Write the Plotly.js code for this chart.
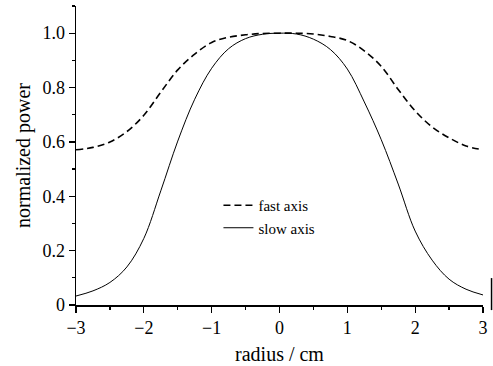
<!DOCTYPE html>
<html>
<head>
<meta charset="utf-8">
<script src="https://cdn.plot.ly/plotly-3.0.1.min.js"></script>
<style>html,body{margin:0;padding:0;background:#fff;}#chart{width:493px;height:366px;}</style>
</head>
<body>
<div id="chart"></div>
<script>
const radius = [-3, -2.75, -2.5, -2.25, -2.0, -1.75, -1.5, -1.25, -1.0, -0.75, -0.5, -0.25, 0, 0.25, 0.5, 0.75, 1.0, 1.25, 1.5, 1.75, 2.0, 2.25, 2.5, 2.75, 3.0];
const fastAxis = [0.571, 0.58, 0.60, 0.638, 0.698, 0.783, 0.865, 0.923, 0.966, 0.985, 0.994, 0.999, 1.0, 1.0, 0.997, 0.988, 0.973, 0.935, 0.878, 0.793, 0.714, 0.655, 0.615, 0.585, 0.571];
const slowAxis = [0.033, 0.052, 0.083, 0.14, 0.245, 0.42, 0.603, 0.757, 0.871, 0.943, 0.98, 0.996, 1.0, 0.997, 0.978, 0.94, 0.868, 0.747, 0.608, 0.445, 0.272, 0.165, 0.095, 0.058, 0.037];
const yTickVals = [0, 0.2, 0.4, 0.6, 0.8, 1.0];
const yTickText = ["0", "0.2", "0.4", "0.6", "0.8", "1.0"];
const xTickVals = [-3, -2, -1, 0, 1, 2, 3];
const xTickText = ["\u22123", "\u22122", "\u22121", "0", "1", "2", "3"];

const font = "Liberation Serif, Times New Roman, serif";
const traces = [
  {x: radius, y: fastAxis, name: "fast axis", mode: "lines", line: {color: "#000", width: 1.6, dash: "7px,4px", shape: "spline", smoothing: 1}},
  {x: radius, y: slowAxis, name: "slow axis", mode: "lines", line: {color: "#000", width: 1, shape: "spline", smoothing: 1}}
];
const layout = {
  width: 493, height: 366,
  margin: {l: 76, r: 10, t: 6, b: 61},
  paper_bgcolor: "#fff", plot_bgcolor: "#fff",
  font: {family: font, color: "#000", size: 18},
  showlegend: true,
  legend: {x: 0.35, y: 0.388, xanchor: "left", yanchor: "top", bgcolor: "rgba(0,0,0,0)", font: {family: font, size: 15}, tracegroupgap: 0},
  xaxis: {
    range: [-3, 3], showgrid: false, zeroline: false, showline: true, linecolor: "#000", linewidth: 1.5,
    ticks: "outside", ticklen: 6, tickwidth: 1.2, tickcolor: "#000",
    tickvals: xTickVals, ticktext: xTickText, tickfont: {size: 18},
    minor: {ticks: "outside", dtick: 0.5, ticklen: 3, tickwidth: 1.2, tickcolor: "#000"},
    title: {text: "radius / cm", font: {size: 20}, standoff: 10}
  },
  yaxis: {
    range: [0, 1.1], showgrid: false, zeroline: false, showline: true, linecolor: "#000", linewidth: 1.5,
    ticks: "outside", ticklen: 6, tickwidth: 1.2, tickcolor: "#000",
    tickvals: yTickVals, ticktext: yTickText, tickfont: {size: 18},
    minor: {ticks: "outside", dtick: 0.1, ticklen: 3, tickwidth: 1.2, tickcolor: "#000"},
    title: {text: "normalized power", font: {size: 20}, standoff: 6}
  },
  shapes: [
    {type: "line", xref: "paper", yref: "paper", x0: 1.021, x1: 1.021, y0: 0.09, y1: -0.017, line: {color: "#000", width: 1.5}}
  ]
};
Plotly.newPlot("chart", traces, layout, {displayModeBar: false, staticPlot: true});
</script>
</body>
</html>
